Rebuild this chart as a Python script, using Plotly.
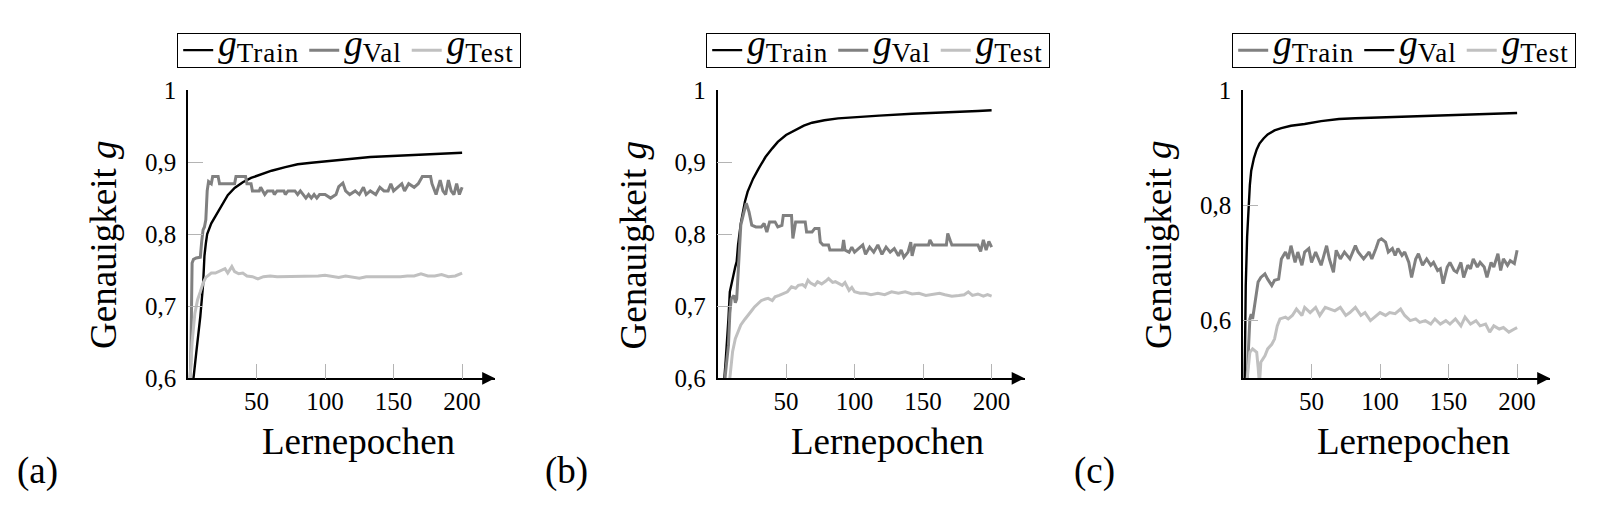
import plotly.graph_objects as go

FONT = "Liberation Serif"
BLACK = "#000000"
GRAY = "#808080"
LIGHT = "#c0c0c0"

# ---------------- data ----------------
# panel (a)
a_train_ep = [1, 3, 4, 6, 9, 11, 12, 13, 14, 17, 20, 22, 25, 29, 34, 40, 46, 54, 61, 71, 80, 90,
              100, 108, 120, 133, 145, 157, 169, 181, 193, 200]
a_train = [0.55, 0.58, 0.60, 0.635, 0.686, 0.73, 0.77, 0.787, 0.80, 0.815, 0.825, 0.832, 0.84,
           0.854, 0.864, 0.872, 0.878, 0.883, 0.888, 0.893, 0.897, 0.899, 0.901, 0.902, 0.904,
           0.907, 0.908, 0.909, 0.910, 0.911, 0.912, 0.913]
a_val_ep = [1, 2, 3, 4, 6, 9, 10, 11, 12, 13, 14, 15, 17, 18, 22, 23, 34, 35, 42, 43, 46, 47, 52,
            53, 56, 58, 62, 63, 65, 70, 71, 73, 78, 80, 82, 86, 88, 90, 92, 94, 96, 100, 104, 108,
            110, 113, 115, 118, 122, 125, 128, 130, 133, 137, 140, 143, 146, 148, 150, 153, 156,
            158, 161, 165, 168, 171, 177, 178, 181, 184, 186, 188, 190, 192, 194, 196, 198, 200]
a_val = [0.58, 0.62, 0.76, 0.765, 0.767, 0.768, 0.79, 0.806, 0.81, 0.82, 0.86, 0.873, 0.87, 0.88,
         0.88, 0.87, 0.87, 0.88, 0.88, 0.87, 0.87, 0.86, 0.86, 0.865, 0.855, 0.86, 0.86, 0.855,
         0.86, 0.86, 0.855, 0.86, 0.86, 0.855, 0.86, 0.85, 0.855, 0.85, 0.855, 0.85, 0.855, 0.855,
         0.85, 0.855, 0.866, 0.871, 0.86, 0.855, 0.86, 0.855, 0.865, 0.855, 0.86, 0.855, 0.865,
         0.86, 0.86, 0.87, 0.86, 0.865, 0.87, 0.86, 0.87, 0.865, 0.87, 0.88, 0.88, 0.87, 0.855,
         0.875, 0.86, 0.855, 0.875, 0.86, 0.855, 0.87, 0.855, 0.865]
a_test_ep = [1, 2, 3, 5, 7, 9, 11, 13, 15, 17, 20, 24, 27, 29, 32, 34, 37, 40, 43, 47, 51, 55, 60,
             65, 70, 75, 80, 85, 90, 95, 100, 105, 110, 115, 120, 125, 130, 135, 140, 145, 150,
             155, 160, 165, 170, 175, 180, 185, 190, 195, 200]
a_test = [0.58, 0.62, 0.65, 0.69, 0.709, 0.72, 0.732, 0.74, 0.743, 0.746, 0.746, 0.75, 0.752,
          0.746, 0.755, 0.748, 0.745, 0.746, 0.742, 0.741, 0.738, 0.741, 0.742, 0.741, 0.741,
          0.742, 0.741, 0.742, 0.742, 0.742, 0.743, 0.741, 0.740, 0.742, 0.740, 0.739, 0.741,
          0.741, 0.740, 0.740, 0.741, 0.741, 0.742, 0.742, 0.745, 0.742, 0.742, 0.744, 0.741,
          0.742, 0.746]

# panel (b)
b_train_ep = [1, 5, 6, 7, 8, 9, 11, 13, 14, 15, 17, 20, 22, 26, 30, 35, 40, 44, 50, 57, 63, 69,
              78, 88, 100, 118, 142, 166, 190, 200]
b_train = [0.55, 0.60, 0.625, 0.65, 0.683, 0.72, 0.74, 0.755, 0.762, 0.785, 0.815, 0.845, 0.859,
           0.877, 0.891, 0.907, 0.919, 0.928, 0.9375, 0.944, 0.9505, 0.9546, 0.958, 0.9606,
           0.9625, 0.9644, 0.967, 0.9685, 0.9708, 0.972]
b_val_ep = [1, 5, 6, 8, 9, 10, 12, 13, 14, 15, 17, 20, 21, 23, 25, 28, 32, 34, 36, 38, 42, 44, 47,
            48, 54, 55, 57, 64, 65, 69, 71, 74, 75, 77, 81, 82, 91, 92, 93, 96, 98, 100, 103, 106,
            108, 111, 114, 117, 120, 123, 126, 129, 132, 134, 136, 139, 141, 142, 144, 154, 155,
            157, 167, 168, 170, 171, 190, 192, 194, 196, 198, 200]
b_val = [0.55, 0.59, 0.61, 0.646, 0.69, 0.71, 0.715, 0.705, 0.71, 0.748, 0.8125, 0.836, 0.843,
         0.831, 0.8125, 0.81, 0.81, 0.815, 0.803, 0.817, 0.817, 0.81, 0.812, 0.826, 0.826, 0.794,
         0.817, 0.817, 0.803, 0.803, 0.808, 0.808, 0.789, 0.785, 0.785, 0.778, 0.778, 0.792,
         0.778, 0.775, 0.782, 0.775, 0.78, 0.785, 0.772, 0.782, 0.775, 0.785, 0.772, 0.782,
         0.775, 0.78, 0.77, 0.778, 0.768, 0.775, 0.789, 0.77, 0.785, 0.785, 0.792, 0.785, 0.785,
         0.801, 0.79, 0.785, 0.785, 0.776, 0.792, 0.778, 0.79, 0.782]
b_test_ep = [1, 8, 9, 11, 13, 15, 17, 20, 22, 25, 27, 30, 32, 35, 37, 40, 42, 45, 48, 51, 54, 57,
             59, 62, 64, 66, 68, 71, 73, 76, 79, 81, 84, 86, 89, 91, 93, 96, 98, 100, 104, 108,
             112, 117, 122, 127, 132, 137, 142, 147, 152, 157, 162, 166, 171, 176, 180, 183, 186,
             190, 194, 197, 200]
b_test = [0.55, 0.59, 0.60, 0.637, 0.655, 0.664, 0.674, 0.682, 0.6875, 0.694, 0.699, 0.705,
          0.708, 0.71, 0.711, 0.708, 0.713, 0.715, 0.718, 0.72, 0.727, 0.725, 0.729, 0.73, 0.727,
          0.736, 0.732, 0.729, 0.734, 0.731, 0.735, 0.7384, 0.733, 0.734, 0.731, 0.729, 0.733,
          0.722, 0.726, 0.72, 0.718, 0.718, 0.716, 0.718, 0.716, 0.72, 0.718, 0.72, 0.717, 0.718,
          0.715, 0.716, 0.718, 0.716, 0.714, 0.715, 0.716, 0.72, 0.715, 0.717, 0.714, 0.716,
          0.714]

# panel (c)  (legend: Train = gray, Val = black)
c_val_ep = [1, 2, 3, 4, 5, 6, 8, 10, 12, 15, 18, 23, 28, 35, 45, 57, 70, 82, 101, 126, 150, 175,
            200]
c_val = [0.45, 0.66, 0.745, 0.795, 0.835, 0.86, 0.882, 0.897, 0.907, 0.916, 0.923, 0.930, 0.934,
         0.938, 0.941, 0.946, 0.9496, 0.951, 0.9525, 0.955, 0.9565, 0.958, 0.96]
c_train_ep = [1, 3, 5, 6, 7, 9, 11, 13, 16, 18, 21, 23, 26, 28, 31, 33, 35, 38, 40, 43, 45, 48,
              50, 53, 55, 57, 61, 63, 66, 68, 71, 74, 78, 82, 84, 88, 92, 94, 97, 99, 101, 104,
              106, 109, 111, 113, 116, 118, 121, 123, 126, 128, 131, 134, 137, 139, 142, 144, 146,
              149, 151, 154, 156, 159, 161, 164, 166, 168, 171, 173, 176, 178, 181, 183, 186, 188,
              190, 193, 195, 198, 200]
c_train = [0.45, 0.50, 0.603, 0.611, 0.603, 0.638, 0.667, 0.675, 0.681, 0.672, 0.661, 0.67,
           0.672, 0.707, 0.719, 0.707, 0.73, 0.701, 0.719, 0.696, 0.719, 0.725, 0.701, 0.719,
           0.707, 0.696, 0.73, 0.707, 0.684, 0.722, 0.707, 0.719, 0.707, 0.73, 0.719, 0.707,
           0.719, 0.707, 0.725, 0.739, 0.742, 0.736, 0.719, 0.725, 0.713, 0.725, 0.713, 0.719,
           0.701, 0.675, 0.707, 0.716, 0.696, 0.707, 0.696, 0.701, 0.687, 0.69, 0.664, 0.693,
           0.701, 0.687, 0.684, 0.701, 0.675, 0.696, 0.69, 0.707, 0.693, 0.701, 0.693, 0.675,
           0.701, 0.693, 0.716, 0.687, 0.707, 0.696, 0.704, 0.699, 0.722]
c_test_ep = [1, 3, 5, 7, 10, 11, 12, 13, 16, 18, 21, 23, 25, 27, 31, 33, 36, 39, 43, 45, 49, 53,
             56, 60, 64, 67, 71, 75, 78, 82, 86, 89, 93, 97, 100, 104, 107, 111, 115, 118, 122,
             126, 129, 133, 137, 140, 144, 148, 151, 155, 159, 162, 166, 170, 173, 177, 180, 183,
             187, 190, 194, 198, 200]
c_test = [0.45, 0.50, 0.545, 0.551, 0.545, 0.52, 0.49, 0.528, 0.539, 0.551, 0.559, 0.568, 0.591,
          0.603, 0.606, 0.603, 0.609, 0.62, 0.609, 0.623, 0.614, 0.623, 0.609, 0.623, 0.62, 0.617,
          0.623, 0.609, 0.614, 0.623, 0.609, 0.614, 0.60, 0.609, 0.614, 0.609, 0.614, 0.612, 0.62,
          0.609, 0.60, 0.603, 0.597, 0.60, 0.594, 0.603, 0.594, 0.60, 0.594, 0.603, 0.591, 0.606,
          0.594, 0.60, 0.591, 0.594, 0.58, 0.591, 0.5855, 0.588, 0.58, 0.5855, 0.588]

# axes / labels
x_ticks = [50, 100, 150, 200]
y_ticks_ab = [0.6, 0.7, 0.8, 0.9, 1.0]
y_text_ab = ["0,6", "0,7", "0,8", "0,9", "1"]
y_ticks_c = [0.6, 0.8, 1.0]
y_text_c = ["0,6", "0,8", "1"]
legend_subs = ["Train", "Val", "Test"]
panel_tags = ["(a)", "(b)", "(c)"]


def legend_label(sub):
    return ("<span style='font-size:30px'>"
            "<span style='font-size:37px'><i>g</i></span>"
            "<sub><span style='font-size:27px;letter-spacing:1px'>" + sub + "</span></sub></span>")


# ---------------- layout geometry (pixels) ----------------
W, H = 1600, 520
def fx(p):
    return p / W
def fy(p):
    return 1 - p / H

AX_TOP, AX_BOT = 90, 378.3
AX_LEN = 307
panels = [
    dict(x0=188.0, yr=[0.6, 1.0], tv=y_ticks_ab, tt=y_text_ab, leg_x=177, tag_x=37),
    dict(x0=717.5, yr=[0.6, 1.0], tv=y_ticks_ab, tt=y_text_ab, leg_x=706, tag_x=566),
    dict(x0=1243.0, yr=[0.5, 1.0], tv=y_ticks_c, tt=y_text_c, leg_x=1232, tag_x=1094),
]

series = [
    [(a_train_ep, a_train, BLACK, 2.4, 0), (a_val_ep, a_val, GRAY, 3.0, 1), (a_test_ep, a_test, LIGHT, 3.0, 2)],
    [(b_train_ep, b_train, BLACK, 2.4, 0), (b_val_ep, b_val, GRAY, 3.0, 1), (b_test_ep, b_test, LIGHT, 3.0, 2)],
    [(c_train_ep, c_train, GRAY, 3.0, 0), (c_val_ep, c_val, BLACK, 2.4, 1), (c_test_ep, c_test, LIGHT, 3.0, 2)],
]

fig = go.Figure()
annotations = []
layout = dict(
    width=W, height=H, autosize=False,
    margin=dict(l=0, r=0, t=0, b=0, autoexpand=False),
    paper_bgcolor="white", plot_bgcolor="white",
    font=dict(family=FONT, color="black", size=25),
    showlegend=True,
)

for i, (p, ser) in enumerate(zip(panels, series)):
    sfx = "" if i == 0 else str(i + 1)
    leg = "legend" if i == 0 else "legend" + str(i + 1)
    for ep, vals, col, lw, ni in ser:
        fig.add_trace(go.Scatter(
            x=ep, y=vals, mode="lines", name=legend_label(legend_subs[ni]),
            line=dict(color=col, width=lw),
            xaxis="x" + sfx, yaxis="y" + sfx, legend=leg,
            hoverinfo="skip",
        ))
    layout["xaxis" + sfx] = dict(
        domain=[fx(p["x0"]), fx(p["x0"] + AX_LEN)], range=[0, 224],
        anchor="y" + sfx, showgrid=False, zeroline=False,
        showline=True, linecolor="black", linewidth=1.6,
        ticks="inside", ticklen=15, tickwidth=1, tickcolor="#b4b4b4",
        tickvals=x_ticks, ticktext=[str(t) for t in x_ticks],
        tickfont=dict(family=FONT, size=25), ticklabelstandoff=0,
        automargin=False, fixedrange=True,
    )
    layout["yaxis" + sfx] = dict(
        domain=[fy(AX_BOT), fy(AX_TOP)], range=p["yr"],
        anchor="x" + sfx, showgrid=False, zeroline=False,
        showline=True, linecolor="black", linewidth=1.6,
        ticks="inside", ticklen=15, tickwidth=1, tickcolor="#b4b4b4",
        tickvals=p["tv"], ticktext=p["tt"],
        tickfont=dict(family=FONT, size=25), ticklabelstandoff=5,
        automargin=False, fixedrange=True,
    )
    layout[leg] = dict(
        x=fx(p["leg_x"]), y=fy(32.7), xanchor="left", yanchor="top",
        orientation="h", bgcolor="rgba(255,255,255,0)",
        bordercolor="black", borderwidth=1.2,
        font=dict(family=FONT, size=15, color="black"),
        itemwidth=30, tracegroupgap=0,
    )
    # arrow head on the x axis
    annotations.append(dict(
        xref="paper", yref="paper", x=fx(p["x0"] + AX_LEN), y=fy(AX_BOT),
        ax=-14, ay=0, showarrow=True, arrowhead=2, arrowsize=1.6, arrowwidth=1.6,
        arrowcolor="black", text="",
    ))
    # axis titles
    annotations.append(dict(
        xref="paper", yref="paper", x=fx(p["x0"] - 85), y=fy(245),
        text="Genauigkeit <i>g</i>", showarrow=False, textangle=-90,
        font=dict(family=FONT, size=37), xanchor="center", yanchor="middle",
    ))
    annotations.append(dict(
        xref="paper", yref="paper", x=fx(p["x0"] + 170), y=fy(441),
        text="Lernepochen", showarrow=False,
        font=dict(family=FONT, size=37), xanchor="center", yanchor="middle",
    ))
    annotations.append(dict(
        xref="paper", yref="paper", x=fx(p["tag_x"]), y=fy(471),
        text=panel_tags[i], showarrow=False,
        font=dict(family=FONT, size=37), xanchor="center", yanchor="middle",
    ))

layout["annotations"] = annotations
fig.update_layout(**layout)
fig.write_html("out.html", config={"displayModeBar": False},
               post_script="document.body.style.margin='0px';")
